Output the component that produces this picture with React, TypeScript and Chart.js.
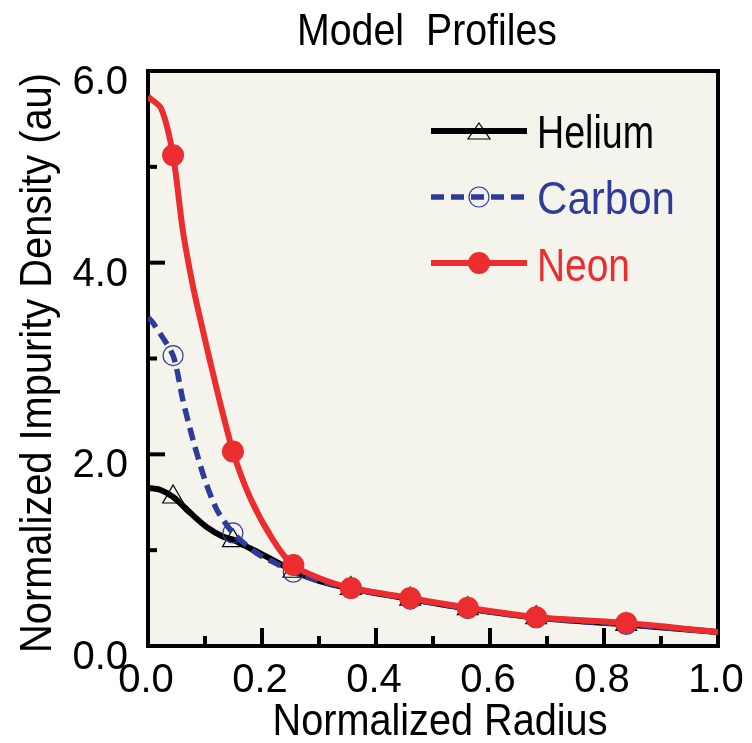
import React, { useEffect, useRef } from "react";
import { Chart, registerables } from "chart.js";

Chart.register(...registerables);

// ---- data ----
const heliumX = [0, 0.021, 0.044, 0.074, 0.103, 0.132, 0.149, 0.179, 0.196, 0.243, 0.255, 0.3, 0.356, 0.46, 0.561, 0.681, 0.839, 1.0];
const heliumY = [1.65, 1.63, 1.555, 1.39, 1.24, 1.14, 1.11, 1.02, 0.97, 0.82, 0.78, 0.68, 0.6, 0.49, 0.39, 0.295, 0.225, 0.145];

const carbonX = [0, 0.009, 0.044, 0.061, 0.079, 0.1, 0.121, 0.149, 0.19, 0.225, 0.255, 0.3, 0.356, 0.46, 0.561, 0.681, 0.839, 1.0];
const carbonY = [3.43, 3.37, 3.03, 2.57, 2.15, 1.73, 1.42, 1.18, 0.97, 0.86, 0.77, 0.68, 0.6, 0.49, 0.39, 0.295, 0.225, 0.145];

const neonX = [0, 0.023, 0.044, 0.061, 0.079, 0.096, 0.121, 0.149, 0.179, 0.219, 0.254, 0.3, 0.356, 0.46, 0.561, 0.681, 0.839, 1.0];
const neonY = [5.73, 5.61, 5.12, 4.34, 3.75, 3.3, 2.67, 2.03, 1.55, 1.11, 0.845, 0.71, 0.605, 0.5, 0.4, 0.3, 0.24, 0.146];

const markerX = [0.044, 0.149, 0.255, 0.356, 0.46, 0.561, 0.681, 0.839];
const heliumMarkY = [1.555, 1.1, 0.78, 0.6, 0.49, 0.39, 0.295, 0.225];
const carbonMarkY = [3.03, 1.18, 0.77, 0.6, 0.49, 0.39, 0.295, 0.225];
const neonMarkY = [5.12, 2.03, 0.845, 0.605, 0.5, 0.4, 0.3, 0.24];

const seriesNames = ["Helium", "Carbon", "Neon"];

const xMajorTicks = [0, 0.2, 0.4, 0.6, 0.8, 1.0];
const xMinorTicks = [0.1, 0.3, 0.5, 0.7, 0.9];
const xTickLabels = ["0.0", "0.2", "0.4", "0.6", "0.8", "1.0"];
const yMajorTicks = [0, 2, 4, 6];
const yMinorTicks = [1, 3, 5];
const yTickLabels = ["0.0", "2.0", "4.0", "6.0"];

const titleText = "Model  Profiles";
const xTitleText = "Normalized Radius";
const yTitleText = "Normalized Impurity Density (au)";

// ---- styles ----
const BLACK = "#000000";
const BLUE = "#2f3b98";
const RED = "#ec2d30";
const BG = "#f4f4ed";
const FONT = "'Liberation Sans', Arial, sans-serif";

const zip = (xs: number[], ys: number[]) => xs.map((x, i) => ({ x, y: ys[i] }));

const decorPlugin = {
  id: "decor",
  beforeDraw(chart: any) {
    const { ctx, chartArea: a } = chart;
    ctx.save();
    ctx.fillStyle = "#ffffff";
    ctx.fillRect(0, 0, chart.width, chart.height);
    ctx.fillStyle = BG;
    ctx.fillRect(a.left, a.top, a.right - a.left, a.bottom - a.top);
    ctx.restore();
  },
  beforeDatasetsDraw(chart: any) {
    const { ctx, chartArea: a, scales } = chart;
    const xs = scales.x;
    const ys = scales.y;
    ctx.save();
    ctx.strokeStyle = BLACK;
    ctx.lineWidth = 4;
    ctx.lineCap = "butt";
    const tick = (x1: number, y1: number, x2: number, y2: number) => {
      ctx.beginPath();
      ctx.moveTo(x1, y1);
      ctx.lineTo(x2, y2);
      ctx.stroke();
    };
    yMajorTicks.forEach((v) => {
      const y = ys.getPixelForValue(v);
      tick(a.left, y, a.left + 17, y);
    });
    yMinorTicks.forEach((v) => {
      const y = ys.getPixelForValue(v);
      tick(a.left, y, a.left + 9, y);
    });
    xMajorTicks.forEach((v) => {
      const x = xs.getPixelForValue(v);
      tick(x, a.bottom, x, a.bottom - 18);
    });
    xMinorTicks.forEach((v) => {
      const x = xs.getPixelForValue(v);
      tick(x, a.bottom, x, a.bottom - 10);
    });
    ctx.lineJoin = "miter";
    ctx.strokeRect(a.left, a.top, a.right - a.left, a.bottom - a.top);
    ctx.restore();
  },
  afterDraw(chart: any) {
    const { ctx, chartArea: a, scales } = chart;
    const xs = scales.x;
    const ys = scales.y;
    ctx.save();
    ctx.fillStyle = BLACK;
    ctx.textBaseline = "alphabetic";
    ctx.font = `40px ${FONT}`;
    ctx.textAlign = "right";
    yMajorTicks.forEach((v, i) => {
      const y = ys.getPixelForValue(v);
      ctx.fillText(yTickLabels[i], a.left - 20, y + 23);
    });
    ctx.textAlign = "center";
    xMajorTicks.forEach((v, i) => {
      const x = xs.getPixelForValue(v);
      ctx.fillText(xTickLabels[i], x - 2, a.bottom + 46);
    });
    ctx.font = `44px ${FONT}`;
    ctx.fillText(titleText, 427, 45, 260);
    ctx.fillText(xTitleText, 440, 735, 335);
    ctx.save();
    ctx.translate(51, 363);
    ctx.rotate(-Math.PI / 2);
    ctx.fillText(yTitleText, 0, 0, 580);
    ctx.restore();

    // legend
    const lx1 = 431, lx2 = 527, mx = 479;
    const rows = [131, 197, 263];
    ctx.strokeStyle = BLACK;
    ctx.lineWidth = 6;
    ctx.beginPath();
    ctx.moveTo(lx1, rows[0]);
    ctx.lineTo(lx2, rows[0]);
    ctx.stroke();
    ctx.lineWidth = 1.2;
    ctx.beginPath();
    ctx.moveTo(mx, 123);
    ctx.lineTo(mx + 11, 139);
    ctx.lineTo(mx - 11, 139);
    ctx.closePath();
    ctx.stroke();
    ctx.strokeStyle = BLUE;
    ctx.lineWidth = 5.5;
    ctx.setLineDash([13, 7]);
    ctx.beginPath();
    ctx.moveTo(lx1, rows[1]);
    ctx.lineTo(lx2, rows[1]);
    ctx.stroke();
    ctx.setLineDash([]);
    ctx.lineWidth = 1.2;
    ctx.beginPath();
    ctx.arc(mx, rows[1], 10, 0, Math.PI * 2);
    ctx.stroke();
    ctx.strokeStyle = RED;
    ctx.lineWidth = 6;
    ctx.beginPath();
    ctx.moveTo(lx1, rows[2]);
    ctx.lineTo(lx2, rows[2]);
    ctx.stroke();
    ctx.fillStyle = RED;
    ctx.beginPath();
    ctx.arc(mx, rows[2], 11, 0, Math.PI * 2);
    ctx.fill();

    ctx.font = `46px ${FONT}`;
    ctx.textAlign = "left";
    ctx.fillStyle = BLACK;
    ctx.fillText(seriesNames[0], 537, 148, 117);
    ctx.fillStyle = BLUE;
    ctx.fillText(seriesNames[1], 537, 214, 138);
    ctx.fillStyle = RED;
    ctx.fillText(seriesNames[2], 537, 281, 93);
    ctx.restore();
  },
};

export default function App() {
  const ref = useRef<HTMLCanvasElement | null>(null);

  useEffect(() => {
    if (!ref.current) return;
    const chart = new Chart(ref.current, {
      type: "line",
      data: {
        datasets: [
          {
            label: seriesNames[2] + " markers",
            data: zip(markerX, neonMarkY),
            showLine: false,
            pointRadius: 11,
            pointStyle: "circle",
            pointBackgroundColor: RED,
            pointBorderColor: RED,
            pointBorderWidth: 0,
          },
          {
            label: seriesNames[2],
            data: zip(neonX, neonY),
            borderColor: RED,
            borderWidth: 6,
            pointRadius: 0,
            tension: 0.25,
            fill: false,
          },
          {
            label: seriesNames[1] + " markers",
            data: zip(markerX, carbonMarkY),
            showLine: false,
            pointRadius: 10,
            pointStyle: "circle",
            pointBackgroundColor: "rgba(0,0,0,0)",
            pointBorderColor: BLUE,
            pointBorderWidth: 1.2,
          },
          {
            label: seriesNames[1],
            data: zip(carbonX, carbonY),
            borderColor: BLUE,
            borderWidth: 5.5,
            borderDash: [13, 7],
            pointRadius: 0,
            tension: 0.25,
            fill: false,
          },
          {
            label: seriesNames[0] + " markers",
            data: zip(markerX, heliumMarkY),
            showLine: false,
            pointRadius: 12,
            pointStyle: "triangle",
            pointBackgroundColor: "rgba(0,0,0,0)",
            pointBorderColor: BLACK,
            pointBorderWidth: 1.2,
          },
          {
            label: seriesNames[0],
            data: zip(heliumX, heliumY),
            borderColor: BLACK,
            borderWidth: 6,
            pointRadius: 0,
            tension: 0.25,
            fill: false,
          },
        ],
      },
      options: {
        responsive: false,
        animation: false,
        devicePixelRatio: 1,
        layout: { padding: { left: 148, right: 34, top: 71, bottom: 97 } },
        plugins: {
          legend: { display: false },
          title: { display: false },
          tooltip: { enabled: false },
        },
        scales: {
          x: { type: "linear", min: 0, max: 1, display: false },
          y: { type: "linear", min: 0, max: 6, display: false },
        },
      },
      plugins: [decorPlugin],
    } as any);
    return () => chart.destroy();
  }, []);

  return (
    <div style={{ position: "fixed", left: 0, top: 0, width: 752, height: 743, background: "#fff" }}>
      <canvas ref={ref} width={752} height={743} style={{ display: "block", width: 752, height: 743 }} />
    </div>
  );
}
